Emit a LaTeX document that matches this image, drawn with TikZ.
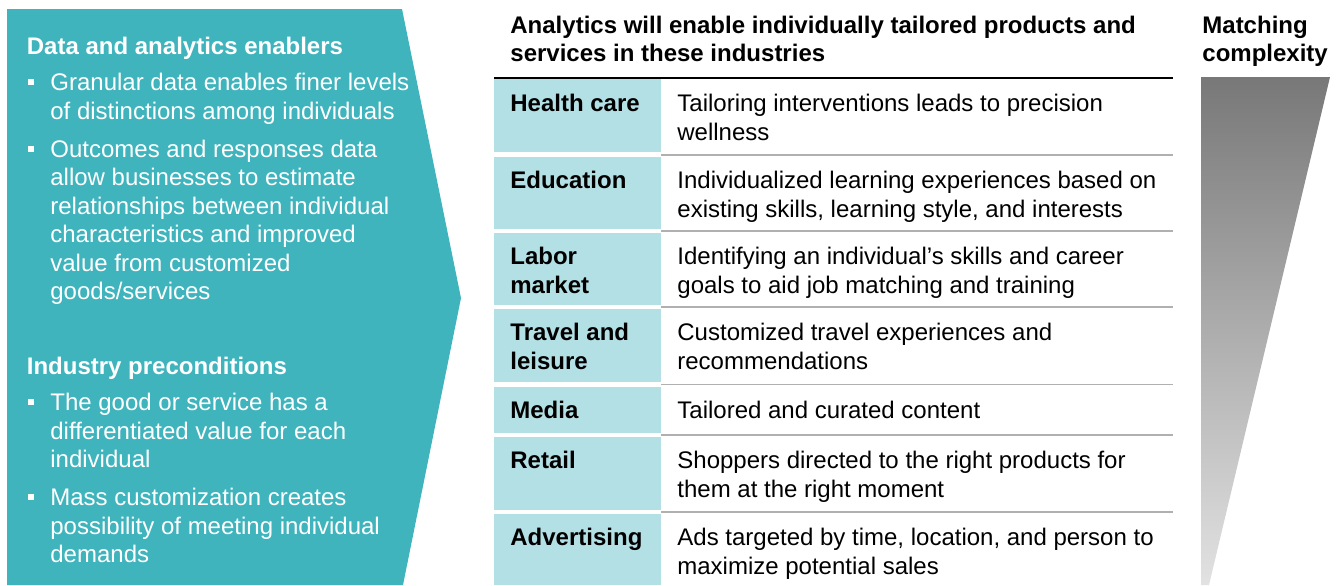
\documentclass[tikz,border=0pt]{standalone}
\usepackage{fontspec}
\setmainfont{Liberation Sans}
\definecolor{panelc}{HTML}{3FB4BD}
\definecolor{cellc}{HTML}{B3E0E5}
\definecolor{sepc}{HTML}{B0B0B0}
\definecolor{gtop}{HTML}{787878}
\definecolor{gbot}{HTML}{E2E2E2}
\newcommand\mlines[1]{\parbox[t]{420pt}{\raggedright #1}}
\tikzset{
  txt/.style={anchor=base west, inner sep=0pt, font=\fontsize{12}{14.25}\selectfont},
  wtxt/.style={txt, text=white},
  btxt/.style={txt, font=\fontsize{12}{14.25}\selectfont\bfseries},
  wbtxt/.style={btxt, text=white},
  bul/.style={fill=white, draw=none, inner sep=0pt, minimum size=3pt},
  cell/.style={fill=cellc, draw=none},
  sepline/.style={draw=sepc, line width=0.75pt},
  headrule/.style={draw=black, line width=1pt},
}
\begin{document}
\begin{tikzpicture}[x=0.5pt, y=-0.5pt]
\useasboundingbox (0,0) rectangle (1344,585);

% left panel
\fill[panelc] (7,9) -- (402,9) -- (461,298) -- (403,585) -- (7,585) -- cycle;
\node[wbtxt] (h1) at (26.5,54) {Data and analytics enablers};
\node[bul] (b1) at (31,82) {};
\node[wtxt] (t1) at (50,90.7) {\mlines{Granular data enables finer levels\\of distinctions among individuals}};
\node[bul] (b2) at (31,148.5) {};
\node[wtxt] (t2) at (50,157.2) {\mlines{Outcomes and responses data\\allow businesses to estimate\\relationships between individual\\characteristics and improved\\value from customized\\goods/services}};
\node[wbtxt] (h2) at (26.5,374) {Industry preconditions};
\node[bul] (b3) at (31,402) {};
\node[wtxt] (t3) at (50,410.7) {\mlines{The good or service has a\\differentiated value for each\\individual}};
\node[bul] (b4) at (31,497) {};
\node[wtxt] (t4) at (50,505.7) {\mlines{Mass customization creates\\possibility of meeting individual\\demands}};

% table title
\node[btxt] (title) at (510,33) {\mlines{Analytics will enable individually tailored products and\\services in these industries}};
\draw[headrule] (494,77.5) -- (1173,77.5);

% rows
\fill[cell] (494,79) rectangle (661,152);
\fill[cell] (494,157) rectangle (661,229);
\fill[cell] (494,233) rectangle (661,305);
\fill[cell] (494,309) rectangle (661,382);
\fill[cell] (494,387) rectangle (661,433);
\fill[cell] (494,437) rectangle (661,510);
\fill[cell] (494,514) rectangle (661,585);

\foreach \yy in {155,231,307,384.5,435,512}
  \draw[sepline] (661,\yy) -- (1173,\yy);

\node[btxt] (l1) at (510,111.5) {Health care};
\node[txt]  (d1) at (677,111.5) {\mlines{Tailoring interventions leads to precision\\wellness}};
\node[btxt] (l2) at (510,188.5) {Education};
\node[txt]  (d2) at (677,188.5) {\mlines{Individualized learning experiences based on\\existing skills, learning style, and interests}};
\node[btxt] (l3) at (510,264.5) {\mlines{Labor\\market}};
\node[txt]  (d3) at (677,264.5) {\mlines{Identifying an individual’s skills and career\\goals to aid job matching and training}};
\node[btxt] (l4) at (510,340.5) {\mlines{Travel and\\leisure}};
\node[txt]  (d4) at (677,340.5) {\mlines{Customized travel experiences and\\recommendations}};
\node[btxt] (l5) at (510,418) {Media};
\node[txt]  (d5) at (677,418) {Tailored and curated content};
\node[btxt] (l6) at (510,468.5) {Retail};
\node[txt]  (d6) at (677,468.5) {\mlines{Shoppers directed to the right products for\\them at the right moment}};
\node[btxt] (l7) at (510,545.5) {Advertising};
\node[txt]  (d7) at (677,545.5) {\mlines{Ads targeted by time, location, and person to\\maximize potential sales}};

% matching complexity
\node[btxt] (mc) at (1202,33) {\mlines{Matching\\complexity}};
\shade[top color=gtop, bottom color=gbot] (1201,77) -- (1330,77) -- (1209,585) -- (1201,585) -- cycle;
\end{tikzpicture}
\end{document}
